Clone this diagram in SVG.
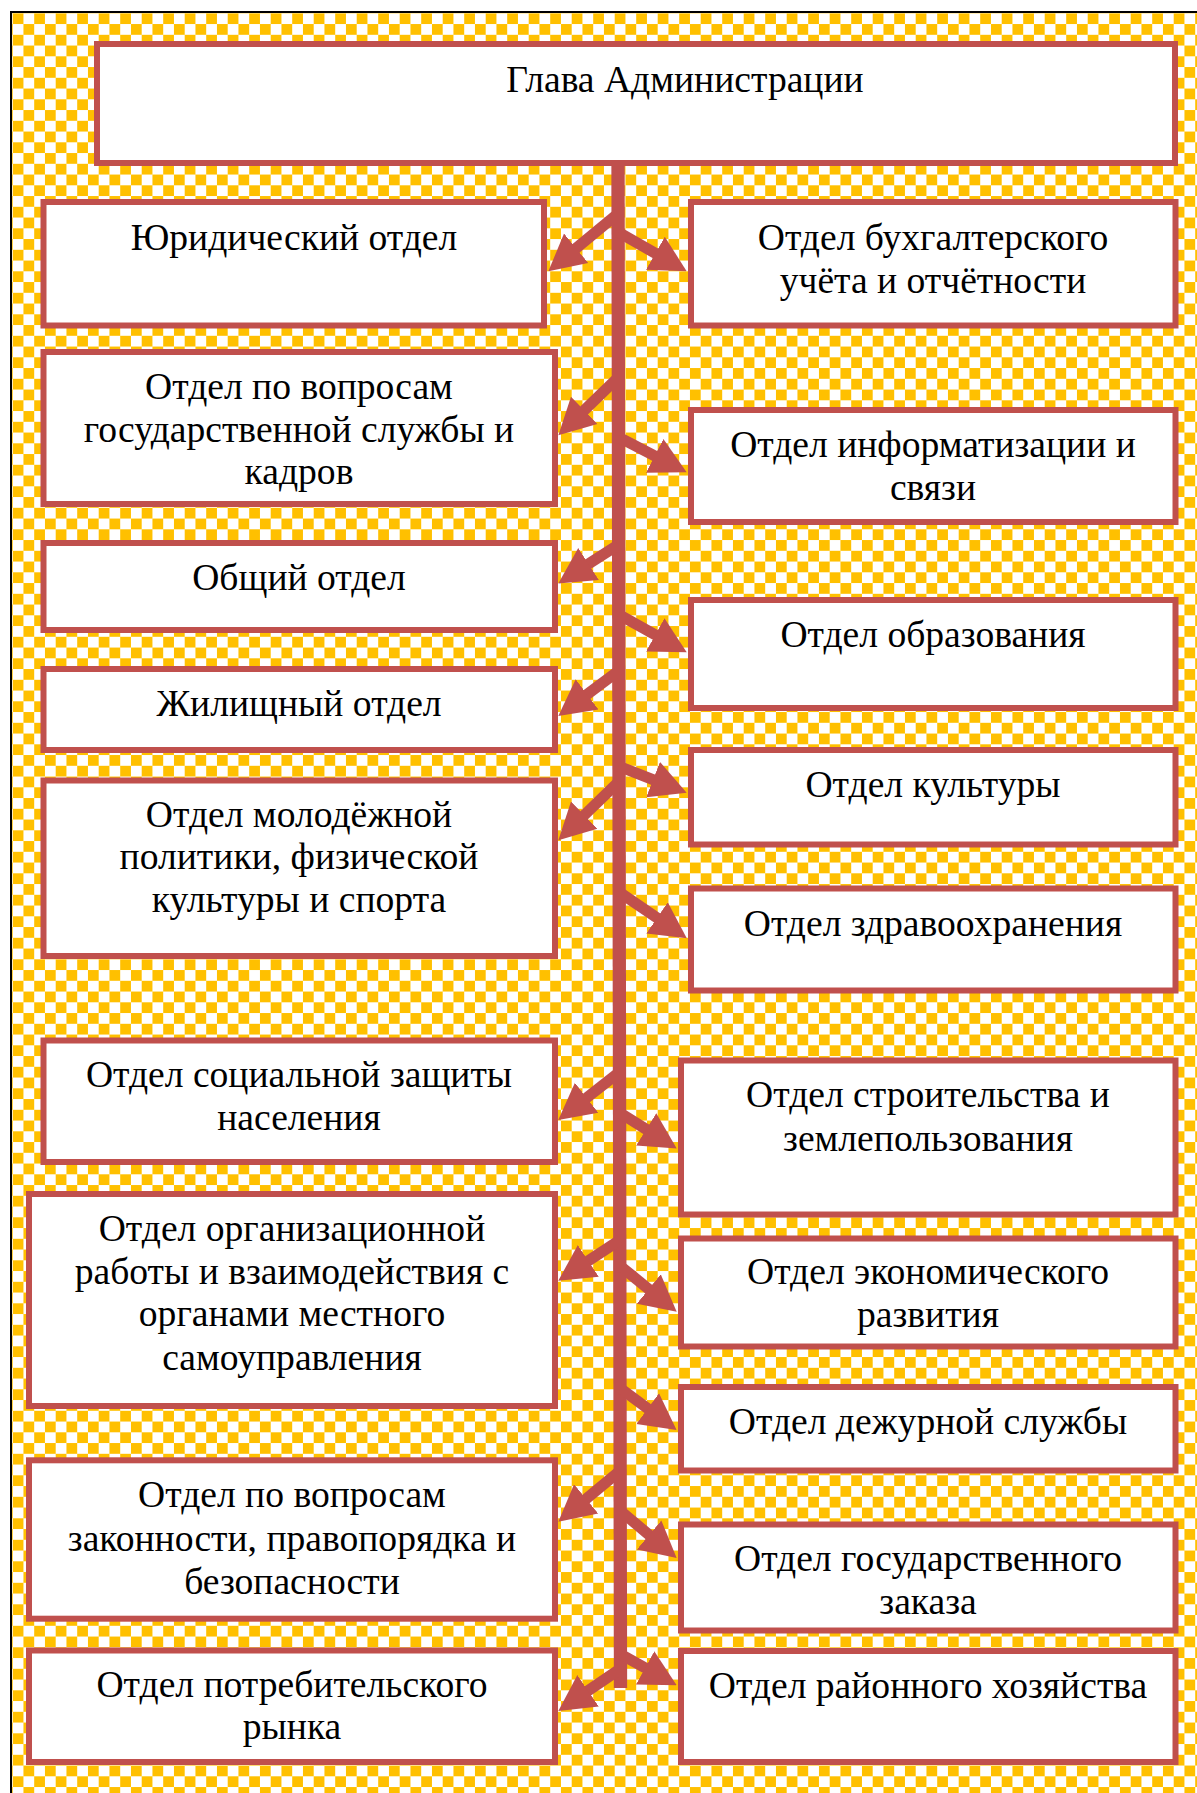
<svg xmlns="http://www.w3.org/2000/svg" width="1197" height="1793" viewBox="0 0 1197 1793">
<defs>
<pattern id="checker" patternUnits="userSpaceOnUse" x="12.7" y="13.3" width="21.5" height="21.5">
<rect width="21.5" height="21.5" fill="#FFFFFF"/>
<rect width="10.75" height="10.75" fill="#FFC000"/>
<rect x="10.75" y="10.75" width="10.75" height="10.75" fill="#FFC000"/>
</pattern>
<marker id="head" markerUnits="userSpaceOnUse" viewBox="-6 -20 36 40" markerWidth="36" markerHeight="40" refX="0" refY="0" orient="auto">
<path d="M-6,-19 L30,0 L-6,19 Z" fill="#C0504D"/>
</marker>
<style>
.box{fill:#FFFFFF;stroke:#C0504D;stroke-width:6}
.lbl{font-family:"Liberation Serif","Times New Roman",serif;font-size:37.6px;fill:#000000;text-anchor:middle}
.trunk{stroke:#C0504D;stroke-width:13.3;fill:none}
.arr{stroke:#C0504D;stroke-width:11;fill:none;marker-end:url(#head)}
</style>
</defs>
<rect x="11" y="12" width="1200" height="1800" fill="url(#checker)" stroke="#000000" stroke-width="2"/>
<g id="connectors">
<line class="trunk" x1="618" y1="160" x2="620.5" y2="1688"/>
<line class="arr" x1="618.2" y1="213.6" x2="571.5" y2="252.1"/>
<line class="arr" x1="618.5" y1="232.3" x2="660.6" y2="256.3"/>
<line class="arr" x1="618.2" y1="377.4" x2="579.9" y2="414.5"/>
<line class="arr" x1="618.5" y1="437.2" x2="660.0" y2="458.6"/>
<line class="arr" x1="618.2" y1="544.8" x2="583.5" y2="567.2"/>
<line class="arr" x1="618.5" y1="614.4" x2="660.5" y2="637.7"/>
<line class="arr" x1="618.2" y1="671.1" x2="582.3" y2="698.0"/>
<line class="arr" x1="618.5" y1="766.2" x2="658.7" y2="781.8"/>
<line class="arr" x1="618.2" y1="782.3" x2="579.9" y2="819.4"/>
<line class="arr" x1="618.5" y1="891.6" x2="662.0" y2="921.3"/>
<line class="arr" x1="619.8" y1="1071.9" x2="581.9" y2="1101.5"/>
<line class="arr" x1="620.8" y1="1113.4" x2="651.3" y2="1132.5"/>
<line class="arr" x1="619.8" y1="1240.1" x2="583.3" y2="1264.2"/>
<line class="arr" x1="620.8" y1="1266.4" x2="653.4" y2="1292.9"/>
<line class="arr" x1="620.8" y1="1388.7" x2="652.5" y2="1412.2"/>
<line class="arr" x1="619.8" y1="1471.1" x2="581.5" y2="1502.7"/>
<line class="arr" x1="620.8" y1="1511.1" x2="653.7" y2="1538.8"/>
<line class="arr" x1="619.8" y1="1669.1" x2="583.1" y2="1694.1"/>
<line class="arr" x1="620.8" y1="1654.4" x2="650.4" y2="1670.7"/>
</g>
<g id="head-admin">
<rect class="box" x="97" y="44" width="1078" height="119"/>
<text class="lbl" x="685" y="92">Глава Администрации</text>
</g>
<g id="legal">
<rect class="box" x="43.5" y="202" width="500.5" height="123.5"/>
<text class="lbl" x="294" y="250">Юридический отдел</text>
</g>
<g id="accounting">
<rect class="box" x="691" y="202" width="484.5" height="123.5"/>
<text class="lbl"><tspan x="933" y="250">Отдел бухгалтерского</tspan><tspan x="933" y="292.5">учёта и отчётности</tspan></text>
</g>
<g id="civil-service">
<rect class="box" x="43.5" y="352" width="511.5" height="152"/>
<text class="lbl"><tspan x="299" y="399">Отдел по вопросам</tspan><tspan x="299" y="441.7">государственной службы и</tspan><tspan x="299" y="484">кадров</tspan></text>
</g>
<g id="it">
<rect class="box" x="691" y="410" width="484.5" height="112"/>
<text class="lbl"><tspan x="933" y="456.7">Отдел информатизации и</tspan><tspan x="933" y="500">связи</tspan></text>
</g>
<g id="general">
<rect class="box" x="43.5" y="543" width="511.5" height="87"/>
<text class="lbl" x="299" y="590">Общий отдел</text>
</g>
<g id="education">
<rect class="box" x="691" y="600" width="484.5" height="108"/>
<text class="lbl" x="933" y="647.4">Отдел образования</text>
</g>
<g id="housing">
<rect class="box" x="43.5" y="669" width="511.5" height="81"/>
<text class="lbl" x="299" y="715.7">Жилищный отдел</text>
</g>
<g id="culture">
<rect class="box" x="691" y="750" width="484.5" height="94.5"/>
<text class="lbl" x="933" y="796.7">Отдел культуры</text>
</g>
<g id="youth-sport">
<rect class="box" x="43.5" y="780.5" width="511.5" height="175.5"/>
<text class="lbl"><tspan x="299" y="826.7">Отдел молодёжной</tspan><tspan x="299" y="869">политики, физической</tspan><tspan x="299" y="912.4">культуры и спорта</tspan></text>
</g>
<g id="health">
<rect class="box" x="691" y="888.5" width="484.5" height="102"/>
<text class="lbl" x="933" y="935.7">Отдел здравоохранения</text>
</g>
<g id="social">
<rect class="box" x="43.5" y="1040.5" width="511.5" height="121.5"/>
<text class="lbl"><tspan x="299" y="1086.7">Отдел социальной защиты</tspan><tspan x="299" y="1129.7">населения</tspan></text>
</g>
<g id="construction">
<rect class="box" x="681" y="1060.5" width="494.5" height="154"/>
<text class="lbl"><tspan x="928" y="1106.7">Отдел строительства и</tspan><tspan x="928" y="1150.7">землепользования</tspan></text>
</g>
<g id="organization">
<rect class="box" x="29" y="1194" width="526" height="212"/>
<text class="lbl"><tspan x="292" y="1240.7">Отдел организационной</tspan><tspan x="292" y="1284">работы и взаимодействия с</tspan><tspan x="292" y="1326.2">органами местного</tspan><tspan x="292" y="1370">самоуправления</tspan></text>
</g>
<g id="economy">
<rect class="box" x="681" y="1238.5" width="494.5" height="108"/>
<text class="lbl"><tspan x="928" y="1284">Отдел экономического</tspan><tspan x="928" y="1326.7">развития</tspan></text>
</g>
<g id="duty">
<rect class="box" x="681" y="1387" width="494.5" height="83.5"/>
<text class="lbl" x="928" y="1434">Отдел дежурной службы</text>
</g>
<g id="law-order">
<rect class="box" x="29" y="1460.3" width="526" height="158.4"/>
<text class="lbl"><tspan x="292" y="1507.4">Отдел по вопросам</tspan><tspan x="292" y="1550.7">законности, правопорядка и</tspan><tspan x="292" y="1594">безопасности</tspan></text>
</g>
<g id="procurement">
<rect class="box" x="681" y="1524.5" width="494.5" height="106"/>
<text class="lbl"><tspan x="928" y="1570.7">Отдел государственного</tspan><tspan x="928" y="1614">заказа</tspan></text>
</g>
<g id="consumer-market">
<rect class="box" x="29" y="1650.5" width="526" height="111.5"/>
<text class="lbl"><tspan x="292" y="1697.4">Отдел потребительского</tspan><tspan x="292" y="1739">рынка</tspan></text>
</g>
<g id="district-economy">
<rect class="box" x="681" y="1651" width="494.5" height="111"/>
<text class="lbl" x="928" y="1698.4">Отдел районного хозяйства</text>
</g>
</svg>
